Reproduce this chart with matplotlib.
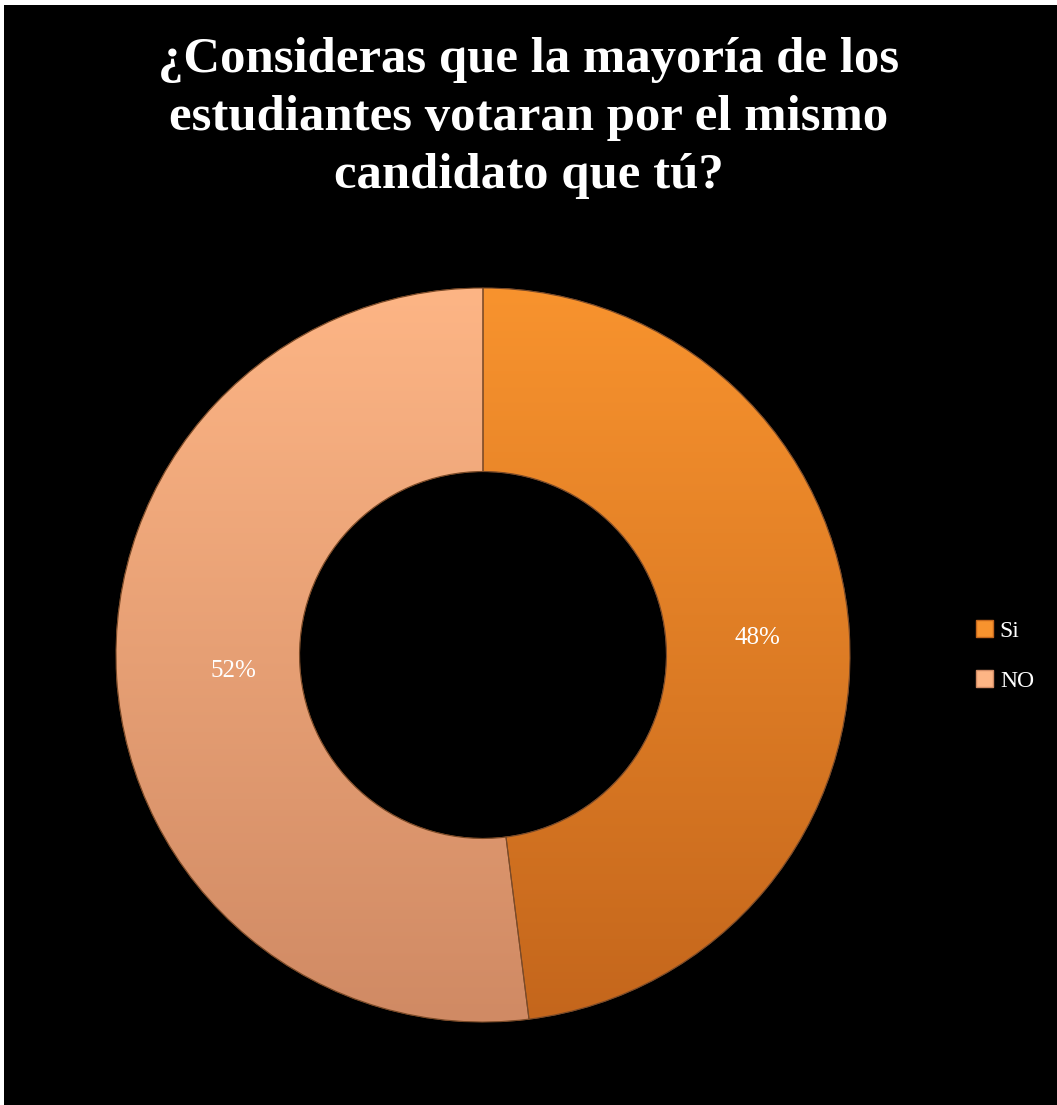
import matplotlib
matplotlib.use("Agg")
import matplotlib.pyplot as plt
import numpy as np
from matplotlib.colors import LinearSegmentedColormap
from matplotlib.patches import Rectangle, Wedge

TITLE = "¿Consideras que la mayoría de los\nestudiantes votaran por el mismo\ncandidato que tú?"
labels = ["Si", "NO"]
values = [48, 52]
# (top, bottom) colours for the vertical shading of each slice
shades = [("#F8932E", "#C4661C"), ("#FDB585", "#D08A64")]
label_dist = [0.75, 0.68]

W, H = 1057, 1105
fig = plt.figure(figsize=(W / 100, H / 100), dpi=100, facecolor="white")
# black panel with a thin white strip along the top and left
fig.patches.append(Rectangle((4 / W, 0), 1, 1 - 5 / H, transform=fig.transFigure,
                             facecolor="black", edgecolor="none", zorder=-5))

cx, cy, r = 483, 655, 367
ax = fig.add_axes([(cx - r) / W, (H - cy - r) / H, 2 * r / W, 2 * r / H])
ax.set_facecolor("none")

wedges, texts, autotexts = ax.pie(
    values, startangle=90, counterclock=False, radius=1,
    wedgeprops=dict(width=0.5, edgecolor="#7a4a28", linewidth=0.8),
    autopct="%1.0f%%", pctdistance=0.75,
    textprops=dict(color="white", fontsize=18, family="Liberation Serif"))

grad = np.linspace(0, 1, 256).reshape(-1, 1)
for w, (top, bot) in zip(wedges, shades):
    w.set_facecolor(bot)
    cmap = LinearSegmentedColormap.from_list("s", [top, bot])
    im = ax.imshow(grad, cmap=cmap, extent=(-1, 1, -1, 1), origin="upper",
                   aspect="auto", zorder=w.get_zorder() + 0.1)
    im.set_clip_path(w)
    ax.add_patch(Wedge(w.center, w.r, w.theta1, w.theta2, width=w.width,
                       facecolor="none", edgecolor="#7a4a28", linewidth=0.8,
                       zorder=w.get_zorder() + 0.2))

# put each percentage at its own distance along the slice's mid angle
for w, t, d in zip(wedges, autotexts, label_dist):
    ang = np.deg2rad((w.theta1 + w.theta2) / 2)
    t.set_position((d * np.cos(ang), d * np.sin(ang)))
    t.set_zorder(10)
ax.set_xlim(-1, 1)
ax.set_ylim(-1, 1)
ax.axis("off")

fig.text(0.5, 1 - 118 / H, TITLE, ha="center", va="center", color="white",
         fontsize=36.5, fontweight="bold", family="Liberation Serif", linespacing=1.34)

# legend
leg_handles = [Rectangle((0, 0), 1, 1, facecolor=top, edgecolor=bot) for top, bot in shades]
fig.legend(leg_handles, labels, loc="center left", bbox_to_anchor=(955 / W, 1 - 656 / H),
           frameon=False, labelcolor="white", handlelength=0.7, handleheight=0.7,
           handletextpad=0.3, labelspacing=1.2,
           prop=dict(family="Liberation Serif", size=17))

fig.savefig("out.png", dpi=100, facecolor="white")
